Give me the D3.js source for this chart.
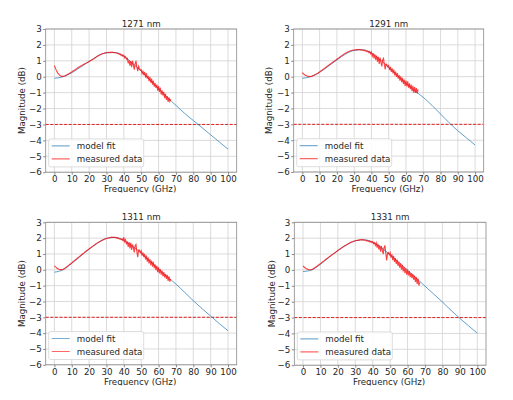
<!DOCTYPE html>
<html><head><meta charset="utf-8">
<script src="https://cdn.jsdelivr.net/npm/d3@7"></script>
<style>body{margin:0;background:#fff} text{font-family:"DejaVu Sans",sans-serif}</style>
</head><body><svg id="c" width="513" height="400"></svg>
<script>
const titles = ["1271 nm", "1291 nm", "1311 nm", "1331 nm"];
const legendLabels = ["model fit", "measured data"];
const xTicks = [0, 10, 20, 30, 40, 50, 60, 70, 80, 90, 100];
const yTicks = [-6, -5, -4, -3, -2, -1, 0, 1, 2, 3];
const threshold = -3;
const fitFreq = [0,5,10,15,20,25,30,35,40,45,50,55,60,65,70,75,80,85,90,95,100];
const measStep = 0.5;

const fit1271 = [-0.10,0.00,0.25,0.60,0.95,1.30,1.50,1.52,1.30,0.85,0.35,-0.20,-0.75,-1.30,-1.80,-2.30,-2.75,-3.20,-3.65,-4.10,-4.55];
const fit1291 = [-0.10,0.00,0.27,0.65,1.05,1.42,1.65,1.70,1.48,1.07,0.58,0.08,-0.42,-0.88,-1.30,-1.80,-2.35,-2.90,-3.40,-3.85,-4.30];
const fit1311 = [-0.15,0.00,0.40,0.85,1.30,1.70,1.98,2.05,1.85,1.50,1.05,0.55,0.05,-0.45,-0.90,-1.42,-1.95,-2.45,-2.92,-3.40,-3.85];
const fit1331 = [-0.10,0.00,0.35,0.80,1.22,1.58,1.83,1.90,1.75,1.40,0.95,0.47,-0.02,-0.52,-1.02,-1.52,-2.02,-2.55,-3.05,-3.52,-3.98];

const meas1271 = [
0.70,0.56,0.43,0.32,0.23,0.16,0.10,0.06,0.03,0.02,
0.02,0.03,0.05,0.08,0.11,0.14,0.17,0.20,0.23,0.27,
0.30,0.34,0.37,0.41,0.45,0.49,0.52,0.56,0.59,0.63,
0.66,0.69,0.72,0.75,0.78,0.81,0.84,0.87,0.90,0.93,
0.96,0.99,1.02,1.05,1.08,1.12,1.15,1.19,1.23,1.27,
1.30,1.33,1.36,1.39,1.42,1.44,1.46,1.47,1.49,1.50,
1.51,1.52,1.53,1.52,1.54,1.53,1.55,1.53,1.54,1.51,
1.52,1.49,1.49,1.45,1.46,1.40,1.42,1.33,1.38,1.28,
1.34,1.18,1.25,1.10,1.15,0.85,1.02,0.70,0.98,0.60,
1.00,0.75,0.45,0.80,1.00,0.60,0.35,0.65,0.50,0.42,
0.45,0.20,0.38,0.10,0.30,-0.05,0.22,-0.12,0.05,-0.28,
0.00,-0.38,-0.12,-0.50,-0.25,-0.62,-0.40,-0.70,-0.50,-0.88,
-0.58,-0.95,-0.68,-1.12,-0.85,-1.18,-0.95,-1.35,-1.08,-1.45,
-1.22,-1.58,-1.30,-1.55,-1.42];
const meas1291 = [
0.25,0.20,0.15,0.11,0.08,0.05,0.03,0.02,0.01,0.01,
0.02,0.03,0.05,0.07,0.10,0.13,0.16,0.19,0.22,0.26,
0.30,0.34,0.38,0.42,0.46,0.50,0.54,0.58,0.62,0.66,
0.70,0.74,0.78,0.82,0.86,0.90,0.94,0.98,1.02,1.06,
1.10,1.14,1.17,1.21,1.25,1.29,1.33,1.37,1.41,1.45,
1.48,1.51,1.54,1.57,1.59,1.61,1.63,1.65,1.66,1.67,
1.68,1.69,1.70,1.69,1.71,1.70,1.71,1.69,1.70,1.67,
1.68,1.64,1.66,1.61,1.63,1.57,1.60,1.52,1.58,1.45,
1.55,1.30,1.48,1.15,1.40,1.05,1.32,0.95,1.25,0.80,
1.20,0.90,0.65,1.05,1.15,0.75,0.45,0.80,0.75,0.62,
0.70,0.42,0.62,0.30,0.52,0.20,0.45,0.08,0.32,-0.02,
0.22,-0.12,0.10,-0.25,0.02,-0.35,-0.08,-0.45,-0.18,-0.58,
-0.25,-0.62,-0.30,-0.70,-0.42,-0.78,-0.50,-0.92,-0.58,-1.00,
-0.65,-1.02,-0.72,-1.05,-0.80];
const meas1311 = [
0.25,0.20,0.15,0.10,0.07,0.04,0.02,0.01,0.01,0.02,
0.04,0.07,0.10,0.14,0.18,0.22,0.26,0.31,0.35,0.40,
0.44,0.49,0.53,0.58,0.62,0.67,0.71,0.76,0.80,0.85,
0.89,0.94,0.98,1.03,1.07,1.12,1.16,1.20,1.24,1.28,
1.32,1.36,1.40,1.44,1.48,1.52,1.56,1.60,1.64,1.67,
1.71,1.74,1.77,1.80,1.83,1.86,1.89,1.91,1.94,1.96,
1.98,1.99,2.01,2.02,2.03,2.04,2.06,2.04,2.07,2.04,
2.05,2.02,2.03,1.98,2.00,1.94,1.97,1.90,1.95,1.85,
2.05,1.78,1.90,1.60,1.80,1.45,1.75,1.35,1.70,1.25,
1.60,1.40,1.10,1.50,1.60,1.15,0.80,1.25,1.25,1.10,
1.20,0.90,1.10,0.80,1.00,0.65,0.90,0.52,0.78,0.40,
0.68,0.30,0.58,0.20,0.50,0.10,0.35,-0.02,0.25,-0.15,
0.15,-0.22,0.05,-0.30,-0.05,-0.40,-0.15,-0.48,-0.25,-0.58,
-0.32,-0.70,-0.42,-0.75,-0.58];
const meas1331 = [
0.25,0.20,0.15,0.11,0.07,0.05,0.03,0.01,0.01,0.01,
0.03,0.05,0.08,0.12,0.16,0.20,0.24,0.28,0.32,0.36,
0.40,0.44,0.49,0.53,0.57,0.62,0.66,0.70,0.74,0.78,
0.82,0.86,0.90,0.94,0.98,1.02,1.06,1.10,1.14,1.18,
1.22,1.26,1.30,1.34,1.38,1.41,1.45,1.49,1.52,1.55,
1.59,1.62,1.65,1.68,1.71,1.74,1.76,1.78,1.80,1.82,
1.84,1.85,1.87,1.86,1.89,1.88,1.91,1.89,1.92,1.88,
1.90,1.86,1.88,1.82,1.86,1.79,1.83,1.75,1.80,1.72,
1.78,1.65,1.72,1.55,1.70,1.40,1.65,1.30,1.55,1.15,
1.50,1.25,1.00,1.40,1.55,1.05,0.60,1.05,1.10,0.95,
1.08,0.78,0.98,0.62,0.88,0.50,0.75,0.38,0.65,0.25,
0.52,0.15,0.42,0.02,0.32,-0.10,0.20,-0.20,0.10,-0.30,
0.02,-0.35,-0.08,-0.45,-0.18,-0.52,-0.25,-0.62,-0.35,-0.75,
-0.45,-0.88,-0.55,-0.98,-0.78];

const fits = [fit1271, fit1291, fit1311, fit1331];
const meas = [meas1271, meas1291, meas1311, meas1331];

// layout (pixels)
const boxes = [
  {l:45.7, r:236.7, t:29,    b:172.2, ylabX:22,    titleY:27,    clipT:0,   clipB:192.6},
  {l:293.7,r:483.7, t:29,    b:172.0, ylabX:268.7, titleY:26.5,  clipT:0,   clipB:192.6},
  {l:45.7, r:236.7, t:222.3, b:364.8, ylabX:22,    titleY:219.5, clipT:200, clipB:385.4},
  {l:294.3,r:486,   t:222.3, b:365.2, ylabX:272,   titleY:219.5, clipT:200, clipB:385.4}
];
const FS = 8.7;
const blue = "#1f77b4", red = "#ff0000";
const svg = d3.select("#c");
const defs = svg.append("defs");

boxes.forEach((B, i) => {
  defs.append("clipPath").attr("id", "row" + i)
    .append("rect").attr("x", 0).attr("y", B.clipT).attr("width", 513).attr("height", B.clipB - B.clipT);
  defs.append("clipPath").attr("id", "plot" + i)
    .append("rect").attr("x", B.l).attr("y", B.t).attr("width", B.r - B.l).attr("height", B.b - B.t);

  const g = svg.append("g").attr("clip-path", `url(#row${i})`);
  const x = d3.scaleLinear().domain([-5, 105]).range([B.l, B.r]);
  const y = d3.scaleLinear().domain([-6, 3]).range([B.b, B.t]);

  // grid
  g.append("g").selectAll("line").data(xTicks).join("line")
    .attr("x1", d => x(d)).attr("x2", d => x(d)).attr("y1", B.t).attr("y2", B.b)
    .attr("stroke", "#d2d2d2").attr("stroke-width", 0.8);
  g.append("g").selectAll("line").data(yTicks).join("line")
    .attr("y1", d => y(d)).attr("y2", d => y(d)).attr("x1", B.l).attr("x2", B.r)
    .attr("stroke", "#d2d2d2").attr("stroke-width", 0.8);

  // axes
  const ax = g.append("g").attr("transform", `translate(0,${B.b})`)
    .call(d3.axisBottom(x).tickValues(xTicks).tickSize(2.5).tickPadding(1.5).tickFormat(d3.format("d")));
  const ay = g.append("g").attr("transform", `translate(${B.l},0)`)
    .call(d3.axisLeft(y).tickValues(yTicks).tickSize(2.5).tickPadding(1.5).tickFormat(d3.format("d")));
  [ax, ay].forEach(a => {
    a.select(".domain").remove();
    a.selectAll(".tick line").attr("stroke", "#555").attr("stroke-width", 0.7);
    a.selectAll(".tick text").attr("fill", "#262626").style("font-size", FS + "px")
      .style("font-family", '"DejaVu Sans", sans-serif');
  });

  const pg = g.append("g").attr("clip-path", `url(#plot${i})`);
  // threshold
  pg.append("line").attr("x1", B.l).attr("x2", B.r).attr("y1", y(threshold)).attr("y2", y(threshold))
    .attr("stroke", "#e02020").attr("stroke-width", 1).attr("stroke-dasharray", "3,1.6");
  // model fit
  const fitData = fitFreq.map((f, k) => [f, fits[i][k]]);
  pg.append("path").datum(fitData)
    .attr("d", d3.line().x(d => x(d[0])).y(d => y(d[1])).curve(d3.curveMonotoneX))
    .attr("fill", "none").attr("stroke", blue).attr("stroke-opacity", 0.7).attr("stroke-width", 1);
  // measured
  const mData = meas[i].map((v, k) => [k * measStep, v]);
  pg.append("path").datum(mData)
    .attr("d", d3.line().x(d => x(d[0])).y(d => y(d[1])))
    .attr("fill", "none").attr("stroke", red).attr("stroke-opacity", 0.75).attr("stroke-width", 1.1);

  // frame
  g.append("rect").attr("x", B.l).attr("y", B.t).attr("width", B.r - B.l).attr("height", B.b - B.t)
    .attr("fill", "none").attr("stroke", "#8a8a8a").attr("stroke-width", 0.8);

  // title
  g.append("text").attr("x", (B.l + B.r) / 2).attr("y", B.titleY).attr("text-anchor", "middle")
    .style("font-size", FS + "px").attr("fill", "#262626").text(titles[i]);
  // x label
  g.append("text").attr("x", (B.l + B.r) / 2 - 1).attr("y", B.b + 20).attr("text-anchor", "middle")
    .style("font-size", FS + "px").attr("fill", "#262626").text("Frequency (GHz)");
  // y label
  g.append("text").attr("transform", `translate(${B.ylabX},${(B.t + B.b) / 2}) rotate(-90)`)
    .attr("text-anchor", "middle").attr("dominant-baseline", "central")
    .style("font-size", FS + "px").attr("fill", "#262626").text("Magnitude (dB)");

  // legend
  const lg = g.append("g").attr("transform", `translate(${B.l + 3},${B.b - 33.3})`);
  lg.append("rect").attr("x", 0).attr("y", 0).attr("width", 95).attr("height", 28).attr("rx", 2)
    .attr("fill", "#fff").attr("fill-opacity", 0.85).attr("stroke", "#d4d4d4").attr("stroke-width", 0.8);
  [blue, red].forEach((c, k) => {
    const yy = 7 + k * 13;
    lg.append("line").attr("x1", 3).attr("x2", 21).attr("y1", yy).attr("y2", yy)
      .attr("stroke", c).attr("stroke-opacity", 0.6).attr("stroke-width", 1.2);
    lg.append("text").attr("x", 28).attr("y", yy).attr("dominant-baseline", "central")
      .style("font-size", FS + "px").attr("fill", "#262626").text(legendLabels[k]);
  });
});
</script></body></html>
